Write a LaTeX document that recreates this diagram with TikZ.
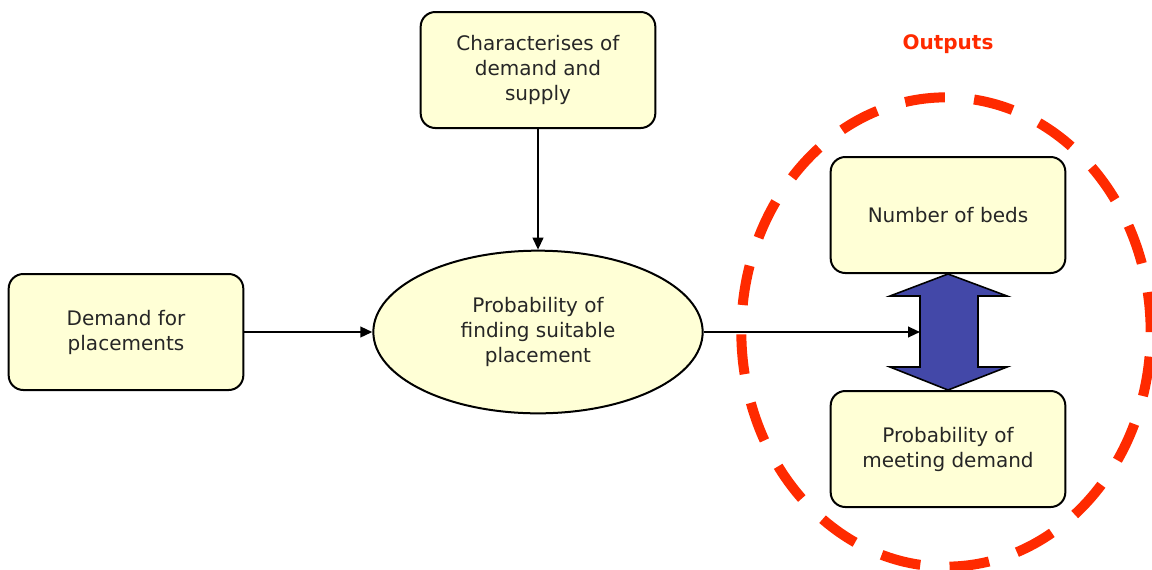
\documentclass[tikz,border=0pt]{standalone}
\usepackage{fontspec}
\setmainfont{DejaVu Sans}
\usetikzlibrary{shapes.geometric,arrows.meta}
\definecolor{boxfill}{HTML}{FFFFD6}
\definecolor{outred}{HTML}{FF2A00}
\definecolor{arrblue}{HTML}{4348A8}
\begin{document}
\begin{tikzpicture}[x=0.75pt,y=-0.75pt,
  every node/.style={font=\fontsize{15pt}{18.75pt}\selectfont, align=center, text=black!85},
  rbox/.style={draw=black, line width=1.5pt, fill=boxfill, rounded corners=11pt,
    minimum width=176pt, minimum height=87pt, inner sep=0pt},
  oval/.style={ellipse, draw=black, line width=1.5pt, fill=boxfill,
    minimum width=247pt, minimum height=122pt, inner sep=0pt},
  conn/.style={draw=black, line width=1.5pt, -{Triangle[length=9pt,width=8pt]}}]
\useasboundingbox (0,0) rectangle (1152,569);
\node[rbox] (chars) at (538,70) {Characterises of\\demand and\\supply};
\node[rbox] (demand) at (126,332) {Demand for\\placements};
\node[oval] (prob) at (538,332) {Probability of\\finding suitable\\placement};
\node[rbox] (beds) at (948,215) {Number of beds};
\node[rbox] (meet) at (948,449) {Probability of\\meeting demand};
\node[font=\bfseries\fontsize{15pt}{18pt}\selectfont, text=outred] (outputs) at (948,44) {Outputs};
% double arrow
\draw[line width=1.2pt, fill=arrblue, line join=miter]
  (beds.south) -- (1007,296) -- (978,296) -- (978,367) -- (1007,367) --
  (meet.north) -- (890,367) -- (920,367) -- (920,296) -- (890,296) -- cycle;
\coordinate (shaftL) at (920,332);
\draw[conn] (chars.south) -- (prob.north);
\draw[conn] (demand.east) -- (prob.west);
\draw[conn] (prob.east) -- (shaftL);
% dashed outputs ellipse
\node[ellipse, draw=outred, line width=7.5pt, dash pattern=on 30pt off 22pt,
  minimum width=307pt, minimum height=352pt, inner sep=0pt] (outring) at (946,332) {};
\end{tikzpicture}
\end{document}
